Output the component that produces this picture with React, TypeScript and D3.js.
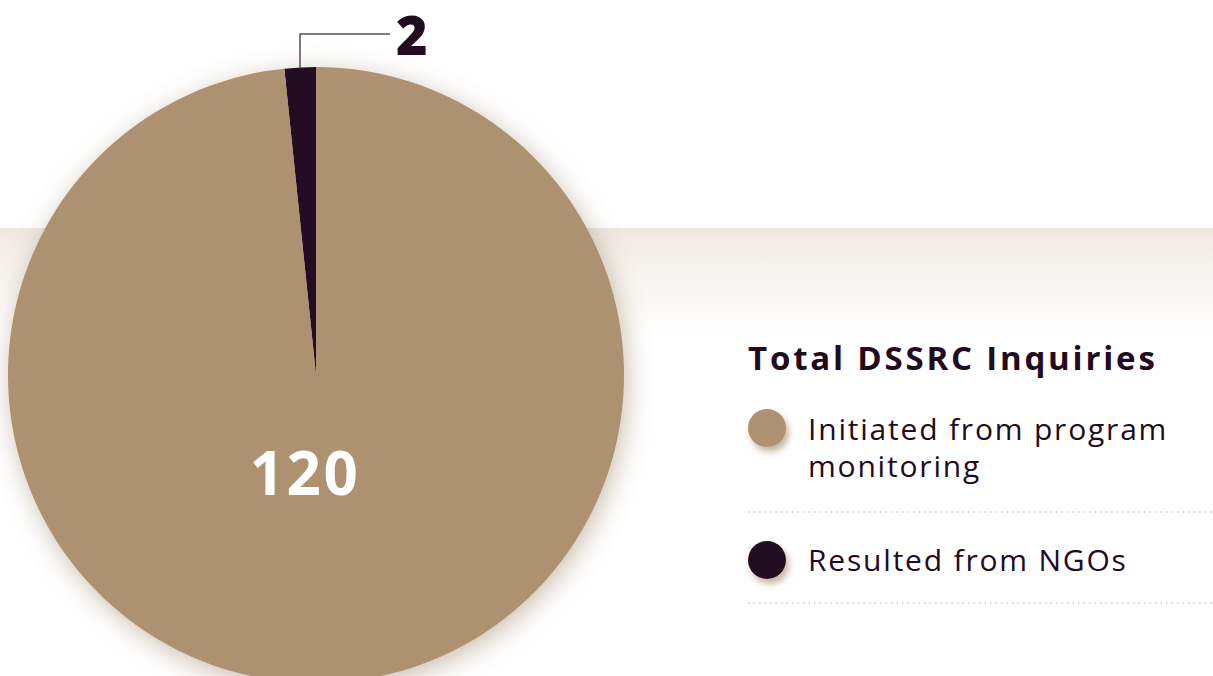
import React from "react";
import * as d3 from "d3";

const categories = ["Resulted from NGOs", "Initiated from program monitoring"];
const values = [2, 120];
const colors = ["#220a20", "#ad916f"];
const legendLabels = [["Initiated from program", "monitoring"], ["Resulted from NGOs"]];
const legendColors = ["#ad916f", "#220a20"];
const title = "Total DSSRC Inquiries";

const W = 1213;
const H = 676;

export default function App() {
  const cx = 316, cy = 375, r = 308;
  const total = d3.sum(values);
  const offset = -(values[0] / total) * 2 * Math.PI;
  const pie = d3.pie<number>().sort(null).value((d) => d).startAngle(offset).endAngle(offset + 2 * Math.PI);
  const arcs = pie(values);
  const arc = d3.arc<d3.PieArcDatum<number>>().innerRadius(0).outerRadius(r);
  const font = "'Open Sans', 'Noto Sans', sans-serif";
  const a0 = arcs[0];
  const mid = (a0.startAngle + a0.endAngle) / 2;
  const ly = cy - Math.cos(mid) * r;
  return (
    <svg width={W} height={H} style={{ position: "absolute", left: 0, top: 0, display: "block" }}>
      <defs>
        <linearGradient id="band" x1="0" y1="0" x2="0" y2="1">
          <stop offset="0" stopColor="#eee8e0" />
          <stop offset="0.35" stopColor="#f6f2ee" />
          <stop offset="1" stopColor="#ffffff" />
        </linearGradient>
        <filter id="shadow" x="-20%" y="-20%" width="140%" height="140%">
          <feDropShadow dx="3" dy="6" stdDeviation="13" floodColor="#8a6e4c" floodOpacity="0.45" />
        </filter>
        <filter id="dotShadow" x="-50%" y="-50%" width="200%" height="200%">
          <feDropShadow dx="3" dy="5" stdDeviation="3" floodColor="#8a6e4c" floodOpacity="0.5" />
        </filter>
      </defs>
      <rect x={0} y={0} width={W} height={H} fill="#ffffff" />
      <rect x={0} y={228} width={W} height={110} fill="url(#band)" />
      <g transform={`translate(${cx},${cy})`} filter="url(#shadow)">
        {arcs.map((a, i) => (
          <path key={categories[i]} d={arc(a) || ""} fill={colors[i]} />
        ))}
      </g>
      <polyline
        points={`${cx - 16},${ly + 1} ${cx - 16},34 390,34`}
        fill="none"
        stroke="#5b4b5a"
        strokeWidth={1.5}
      />
      <text x={396} y={55} fontFamily={font} fontWeight={800} fontSize={54} letterSpacing={1} fill="#220a20">
        {values[0]}
      </text>
      <text x={305} y={495} textAnchor="middle" fontFamily={font} fontWeight={700} fontSize={60} letterSpacing={2.5} fill="#ffffff">
        {values[1]}
      </text>
      <text x={748} y={370} fontFamily={font} fontWeight={700} fontSize={33} letterSpacing={2.8} fill="#220a20">
        {title}
      </text>
      <circle cx={767} cy={428} r={19} fill={legendColors[0]} filter="url(#dotShadow)" />
      <text x={808} y={440} fontFamily={font} fontSize={30} letterSpacing={1.8} fill="#220a20">
        {legendLabels[0][0]}
      </text>
      <text x={808} y={477} fontFamily={font} fontSize={30} letterSpacing={1.8} fill="#220a20">
        {legendLabels[0][1]}
      </text>
      <line x1={748} y1={512} x2={W} y2={512} stroke="#d9cbb8" strokeWidth={1.5} strokeDasharray="1.5 4" />
      <circle cx={767} cy={560} r={19} fill={legendColors[1]} filter="url(#dotShadow)" />
      <text x={808} y={571} fontFamily={font} fontSize={30} letterSpacing={1.8} fill="#220a20">
        {legendLabels[1][0]}
      </text>
      <line x1={748} y1={603} x2={W} y2={603} stroke="#d9cbb8" strokeWidth={1.5} strokeDasharray="1.5 4" />
    </svg>
  );
}
